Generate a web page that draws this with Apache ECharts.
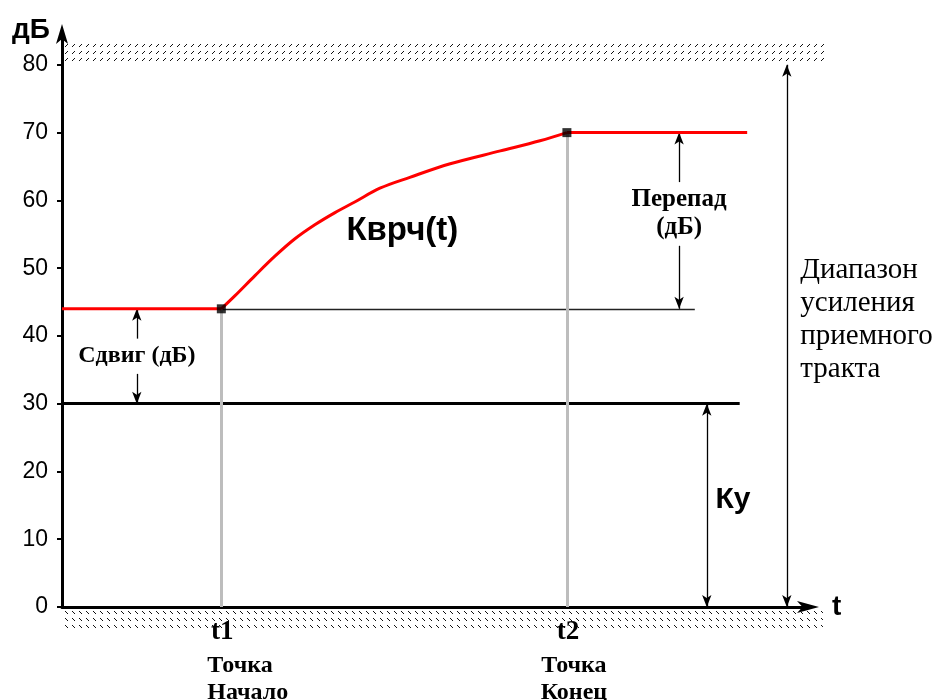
<!DOCTYPE html>
<html><head><meta charset="utf-8">
<script src="https://cdn.jsdelivr.net/npm/echarts@6/dist/echarts.min.js"></script>
<style>html,body{margin:0;padding:0;background:#fff}#c{width:939px;height:700px}</style>
</head><body><div id="c"></div>
<script>
// ---- data ----
const yTicks = [0, 10, 20, 30, 40, 50, 60, 70, 80];
// rising part of Kvrch(t) between t1 and t2
const curveT  = [21.3, 23.1, 25.8, 28.5, 31.1, 33.8, 36.5, 39.2, 42.5, 46.5, 51.9, 58.6, 63.9, 67.5];
const curveDb = [44, 45.9, 48.9, 51.8, 54.3, 56.4, 58.2, 59.8, 61.8, 63.4, 65.4, 67.3, 68.8, 70];
// flat parts before t1 and after t2
const startT  = [0, 21.3];
const startDb = [44, 44];
const endT    = [67.5, 91.6];
const endDb   = [70, 70];
const keyT  = [21.3, 67.5];          // t1, t2
const keyDb = [44, 70];              // level at t1, t2
const keyNames = ['t1', 't2'];
const keyCaptions = [['Точка', 'Начало'], ['Точка', 'Конец']];
const levelKy = 30;                  // Ку
const levelTop = 80;                 // top of range
const curveName = 'Кврч(t)';
const shiftLabel = 'Сдвиг (дБ)';
const dropLabel = ['Перепад', '(дБ)'];
const kyLabel = 'Ку';
const rangeLabel = ['Диапазон', 'усиления', 'приемного', 'тракта'];

const SANS = 'Liberation Sans, Arial, sans-serif';
const SERIF = 'Liberation Serif, Times New Roman, serif';

function hatch(dir) {
  const c = document.createElement('canvas');
  c.width = 7; c.height = 7;
  const g = c.getContext('2d');
  g.fillStyle = '#111';
  for (let i = 0; i < 3; i++) {
    const x = 2 + i;
    const y = dir > 0 ? 4 - i : 2 + i;
    g.fillRect(x, y, 1, 1);
  }
  return c;
}

const chart = echarts.init(document.getElementById('c'), null, {renderer: 'canvas'});

const arrowEnd = (x, y) => ({coord: [x, y], symbol: 'arrow', symbolSize: [7, 12]});
const plain = (x, y, ls) => ({coord: [x, y], symbol: 'none', lineStyle: ls});
const thin = {color: '#000', width: 1.3, type: 'solid'};
const red = {color: '#ff0000', width: 3};
const zip = (a, b) => a.map((v, i) => [v, b[i]]);

chart.setOption({
  animation: false,
  grid: {left: 62, right: 129, top: 33, bottom: 93},
  xAxis: {
    type: 'value', min: 0, max: 100,
    axisLine: {onZero: false, lineStyle: {color: '#000', width: 3}, symbol: ['none', 'arrow'], symbolSize: [9, 22], symbolOffset: [0, 9]},
    axisTick: {show: false}, axisLabel: {show: false}, splitLine: {show: false},
    name: 't', nameGap: 22,
    nameTextStyle: {fontFamily: SANS, fontWeight: 'bold', fontSize: 28, color: '#000'}
  },
  yAxis: {
    type: 'value', min: 0, max: 84.7,
    axisLine: {show: true, lineStyle: {color: '#000', width: 3}, symbol: ['none', 'arrow'], symbolSize: [9, 20], symbolOffset: [0, 9]},
    axisTick: {show: true, length: 5, lineStyle: {color: '#000', width: 2}, customValues: yTicks},
    axisLabel: {customValues: yTicks, fontFamily: SANS, fontSize: 23, color: '#000', margin: 14},
    splitLine: {show: false}
  },
  series: [
    {
      name: curveName, type: 'line', z: 5,
      data: zip(curveT, curveDb),
      smooth: 0.35, showSymbol: false,
      lineStyle: red,
      markLine: {
        silent: true, animation: false, z: 3,
        symbol: ['none', 'none'],
        label: {show: false},
        itemStyle: {color: '#000'},
        lineStyle: {color: '#000', type: 'solid'},
        data: [
          [plain(0, levelTop, {color: '#000', width: 2}), {coord: [101.9, levelTop], symbol: 'none'}],
          [plain(0, levelKy, {color: '#000', width: 3}), {coord: [90.6, levelKy], symbol: 'none'}],
          [plain(keyT[0], keyDb[0], {color: '#222', width: 1.3}), {coord: [84.6, keyDb[0]], symbol: 'none'}],
          [plain(keyT[0], 0, {color: '#bdbdbd', width: 3}), {coord: [keyT[0], keyDb[0]], symbol: 'none'}],
          [plain(keyT[1], 0, {color: '#bdbdbd', width: 3}), {coord: [keyT[1], keyDb[1]], symbol: 'none'}],
          [plain(10, 39.6, thin), arrowEnd(10, keyDb[0])],
          [plain(10, 34.4, thin), arrowEnd(10, levelKy)],
          [plain(82.5, 62.7, thin), arrowEnd(82.5, keyDb[1])],
          [plain(82.5, 53.3, thin), arrowEnd(82.5, keyDb[0])],
          [Object.assign(arrowEnd(86.2, levelKy), {lineStyle: thin}), arrowEnd(86.2, 0)],
          [Object.assign(arrowEnd(96.9, levelTop), {lineStyle: thin}), arrowEnd(96.9, 0)]
        ]
      }
    },
    {name: curveName, type: 'line', z: 5, data: zip(startT, startDb), showSymbol: false, lineStyle: red},
    {name: curveName, type: 'line', z: 5, data: zip(endT, endDb), showSymbol: false, lineStyle: red},
    {
      type: 'scatter', z: 10, symbol: 'rect', symbolSize: 9,
      itemStyle: {color: '#000'},
      data: zip(keyT, keyDb),
      silent: true
    }
  ]
});

const P = (x, y) => chart.convertToPixel({gridIndex: 0}, [x, y]);
const g = [];
// hatched bands (top above 80, bottom below 0)
const a80 = P(0, levelTop), b80 = P(101.9, levelTop);
g.push({type: 'rect', z: 1, shape: {x: a80[0] + 1, y: a80[1] - 21, width: b80[0] - a80[0], height: 20},
        style: {fill: {image: hatch(1), repeat: 'repeat'}}});
const a0 = P(0, 0), b0 = P(101.6, 0);
g.push({type: 'rect', z: 1, shape: {x: a0[0] + 1, y: a0[1] + 2, width: b0[0] - a0[0], height: 21},
        style: {fill: {image: hatch(-1), repeat: 'repeat'}}});

function txt(p, text, font, extra) {
  return {type: 'text', z: 20, x: p[0], y: p[1],
    style: Object.assign({text: text, font: font, fill: '#000', align: 'center', verticalAlign: 'middle'}, extra || {})};
}
g.push(txt([31, 30], 'дБ', 'bold 28px ' + SANS));
g.push(txt(P(45.5, 55.5), curveName, 'bold 33px ' + SANS));
g.push(txt(P(10, 37), shiftLabel, 'bold 24px ' + SERIF));
g.push(txt(P(82.5, 58), dropLabel.join('\n'), 'bold 25px ' + SERIF, {lineHeight: 28}));
g.push(txt(P(89.7, 15.8), kyLabel, 'bold 30px ' + SANS));
const rp = P(98.7, 42.4);
g.push(txt(rp, rangeLabel.join('\n'), '29px ' + SERIF, {align: 'left', lineHeight: 33}));
keyT.forEach((t, i) => {
  const p = P(t, 0);
  g.push(txt([p[0] + 1, p[1] + 25], keyNames[i], 'bold 27px ' + SERIF));
  if (i === 0) {
    g.push(txt([p[0] - 14, p[1] + 59], keyCaptions[i][0], 'bold 24px ' + SERIF, {align: 'left'}));
    g.push(txt([p[0] - 14, p[1] + 86], keyCaptions[i][1], 'bold 24px ' + SERIF, {align: 'left'}));
  } else {
    g.push(txt([p[0] + 7, p[1] + 59], keyCaptions[i][0], 'bold 24px ' + SERIF));
    g.push(txt([p[0] + 7, p[1] + 86], keyCaptions[i][1], 'bold 24px ' + SERIF));
  }
});
chart.setOption({graphic: g});
</script>
</body></html>
